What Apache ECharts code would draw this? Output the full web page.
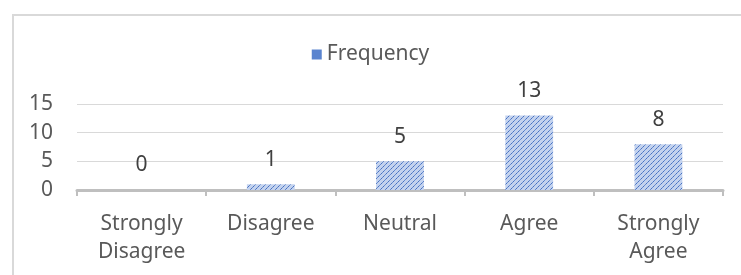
<!DOCTYPE html>
<html>
<head>
<meta charset="utf-8">
<script src="https://cdn.jsdelivr.net/npm/echarts@6/dist/echarts.min.js"></script>
<style>
html, body { margin: 0; padding: 0; background: #fff; }
#wrap { position: relative; width: 741px; height: 275px; overflow: hidden; }
#main { width: 741px; height: 275px; }
#frame { position: absolute; left: 12px; top: 14px; right: -10px; bottom: -10px;
  border-left: 2px solid #d9d9d9; border-top: 2px solid #d9d9d9; pointer-events: none; }
</style>
</head>
<body>
<div id="wrap">
  <div id="main"></div>
  <div id="frame"></div>
</div>
<script>
// 数据
const categories = ['Strongly\nDisagree', 'Disagree', 'Neutral', 'Agree', 'Strongly\nAgree'];
const frequency = [0, 1, 5, 13, 8];
const yTicks = [0, 5, 10, 15];

// 斜线填充
function hatch() {
    let c = document.createElement('canvas');
    c.width = 5; c.height = 5;
    let ctx = c.getContext('2d');
    ctx.fillStyle = '#c3d2ee';
    ctx.fillRect(0, 0, 5, 5);
    ctx.fillStyle = '#3f6cc0';
    for (let i = 0; i < 5; i++) {
        ctx.globalAlpha = i % 2 ? 0.95 : 0.7;
        ctx.fillRect(i, 4 - i, 1, 1);
    }
    return c;
}
const pattern = { image: hatch(), repeat: 'repeat' };
const font = 'Noto Sans';

let myChart = echarts.init(document.getElementById('main'));
let option = {
    animation: false,
    legend: {
        top: 39,
        left: 'center',
        itemWidth: 10,
        itemHeight: 10,
        itemGap: 6,
        data: [{ name: 'Frequency', icon: 'rect', itemStyle: { color: '#5a84cf' } }],
        textStyle: { color: '#595959', fontSize: 21, fontFamily: font }
    },
    grid: {
        left: 77,
        right: 18,
        top: 104,
        bottom: 85
    },
    xAxis: {
        type: 'category',
        data: categories,
        axisLine: { lineStyle: { color: '#bfbfbf', width: 3 } },
        axisTick: { show: true, length: 6, lineStyle: { color: '#bfbfbf', width: 2 } },
        axisLabel: {
            color: '#595959', fontSize: 21, fontFamily: font,
            lineHeight: 28, margin: 20, interval: 0
        }
    },
    yAxis: {
        type: 'value',
        min: yTicks[0],
        max: yTicks[yTicks.length - 1],
        interval: 5,
        axisLine: { show: false },
        axisTick: { show: false },
        splitLine: { lineStyle: { color: '#d9d9d9', width: 1 } },
        axisLabel: { color: '#595959', fontSize: 21, fontFamily: font, margin: 24 }
    },
    series: [
        {
            name: 'Frequency',
            type: 'bar',
            data: frequency,
            barWidth: '37%',
            itemStyle: { color: pattern },
            label: {
                show: true,
                position: 'top',
                distance: 14,
                color: '#404040',
                fontSize: 21,
                fontFamily: font
            }
        }
    ]
};
myChart.setOption(option, true);
</script>
</body>
</html>
